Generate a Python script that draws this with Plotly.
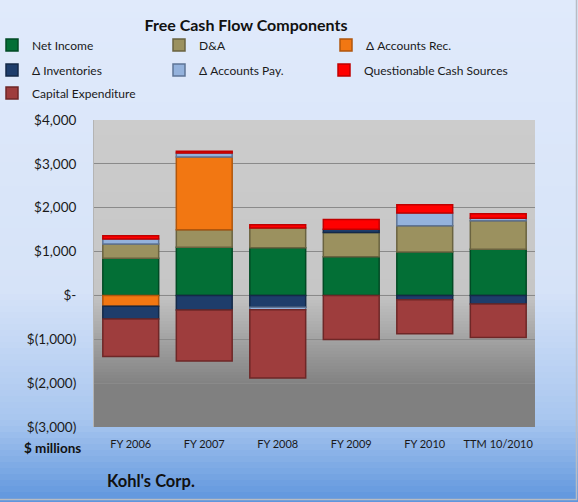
import plotly.graph_objects as go

categories = ["FY 2006", "FY 2007", "FY 2008", "FY 2009", "FY 2010", "TTM 10/2010"]
net_income = [845, 1100, 1085, 880, 990, 1055]
d_and_a = [325, 395, 450, 555, 600, 645]
accounts_rec = [-245, 1660, None, None, None, None]
inventories = [-290, -330, -270, 75, -100, -195]
accounts_pay = [115, 90, -55, None, 290, 60]
questionable = [75, 45, 75, 220, 190, 100]
capex = [-855, -1165, -1560, -1005, -775, -765]

tick_vals = [4000, 3000, 2000, 1000, 0, -1000, -2000, -3000]
tick_text = ["$4,000", "$3,000", "$2,000", "$1,000", "$-", "$(1,000)", "$(2,000)", "$(3,000)"]

series = [
    ("Net Income", net_income, "#036f36", "#024a24", "legend"),
    ("D&A", d_and_a, "#9b915f", "#6a6340", "legend"),
    ("Δ Accounts Rec.", accounts_rec, "#f27712", "#b0560c", "legend"),
    ("Δ Inventories", inventories, "#1e3d6b", "#142947", "legend2"),
    ("Δ Accounts Pay.", accounts_pay, "#94b2dc", "#5e7496", "legend2"),
    ("Questionable Cash Sources", questionable, "#ff0000", "#c00000", "legend4"),
    ("Capital Expenditure", capex, "#9e3d3d", "#6e2727", "legend3"),
]

W, H = 578, 502
L, R, T, B = 94, 535, 120, 427
PW, PH = R - L, B - T

def px(x):
    return (x - L) / PW

def py(y):
    return (B - y) / PH

fig = go.Figure()
for name, vals, col, lcol, lg in series:
    fig.add_trace(go.Bar(
        x=categories, y=vals, name=name,
        marker=dict(color=col, line=dict(color=lcol, width=1.5)),
        legend=lg,
    ))

def interp(stops, y):
    for (y0, c0), (y1, c1) in zip(stops, stops[1:]):
        if y0 <= y <= y1:
            t = (y - y0) / (y1 - y0) if y1 > y0 else 0
            return tuple(round(a + (b - a) * t) for a, b in zip(c0, c1))
    return stops[-1][1]

shapes = []
outer_stops = [(0, (224, 234, 251)), (290, (214, 227, 248)), (420, (168, 198, 239)), (502, (94, 149, 221))]
step = 6
for y in range(0, H, step):
    c = interp(outer_stops, y + step / 2)
    shapes.append(dict(type="rect", xref="paper", yref="paper", layer="below",
                       x0=px(-2), x1=px(W + 2), y0=py(y + step + 0.5), y1=py(y),
                       fillcolor="rgb(%d,%d,%d)" % c, line=dict(width=0)))
inner_stops = [(T, (204, 204, 204)), (292, (198, 198, 198)), (386, (128, 128, 128)), (B, (128, 128, 128))]
step = 3
for y in range(T, B, step):
    c = interp(inner_stops, y + step / 2)
    shapes.append(dict(type="rect", xref="paper", yref="paper", layer="below",
                       x0=0, x1=1, y0=py(min(y + step + 0.5, B)), y1=py(y),
                       fillcolor="rgb(%d,%d,%d)" % c, line=dict(width=0)))
# chart border (right and bottom)
shapes.append(dict(type="line", xref="paper", yref="paper", x0=px(576.5), x1=px(576.5),
                   y0=py(0), y1=py(500), line=dict(color="#b8bcc4", width=1.5)))
shapes.append(dict(type="line", xref="paper", yref="paper", x0=px(0), x1=px(577),
                   y0=py(499.5), y1=py(499.5), line=dict(color="#b8bcc4", width=1.5)))

font = "Lato, 'Open Sans', sans-serif"

legend_common = dict(orientation="h", entrywidth=126, entrywidthmode="pixels",
                     bgcolor="rgba(0,0,0,0)", font=dict(family=font, size=12, color="#1a1a1a"),
                     xanchor="left", yanchor="middle", x=px(-4), indentation=-4,
                     traceorder="normal")

fig.update_layout(
    width=W, height=H,
    margin=dict(l=L, r=W - R, t=T, b=H - B, autoexpand=False),
    barmode="relative",
    bargap=0.24,
    paper_bgcolor="#dfe9fb",
    plot_bgcolor="rgba(0,0,0,0)",
    shapes=shapes,
    showlegend=True,
    legend=dict(legend_common, y=py(45)),
    legend2=dict(legend_common, y=py(70)),
    legend3=dict(legend_common, y=py(93)),
    legend4=dict(legend_common, y=py(70), x=px(-4 + 332), entrywidth=200),
    title=dict(text="<b>Free Cash Flow Components</b>", x=246 / W, xanchor="center",
               y=1 - 25 / H, yanchor="middle",
               font=dict(family=font, size=16, color="#111111")),
    xaxis=dict(showgrid=False, showline=False, ticks="", zeroline=False,
               tickfont=dict(family=font, size=11, color="#1a1a1a"),
               ticklabelstandoff=9, automargin=False),
    yaxis=dict(range=[-3000, 4000], tickvals=tick_vals, ticktext=tick_text,
               showgrid=True, gridcolor="#8a8a8a", gridwidth=1,
               zeroline=True, zerolinecolor="#8a8a8a", zerolinewidth=1,
               showline=True, linecolor="#b4b4b4", linewidth=1,
               ticks="", ticklabelstandoff=14, automargin=False,
               tickfont=dict(family=font, size=13.5, color="#1a1a1a")),
    annotations=[
        dict(text="<b>$ millions</b>", xref="paper", yref="paper", x=px(52), y=py(448),
             xanchor="center", yanchor="middle", showarrow=False,
             font=dict(family=font, size=13.5, color="#111111")),
        dict(text="<b>Kohl's Corp.</b>", xref="paper", yref="paper", x=px(151), y=py(481),
             xanchor="center", yanchor="middle", showarrow=False,
             font=dict(family=font, size=16.5, color="#111111")),
    ],
)

fig.write_html("out.html")
